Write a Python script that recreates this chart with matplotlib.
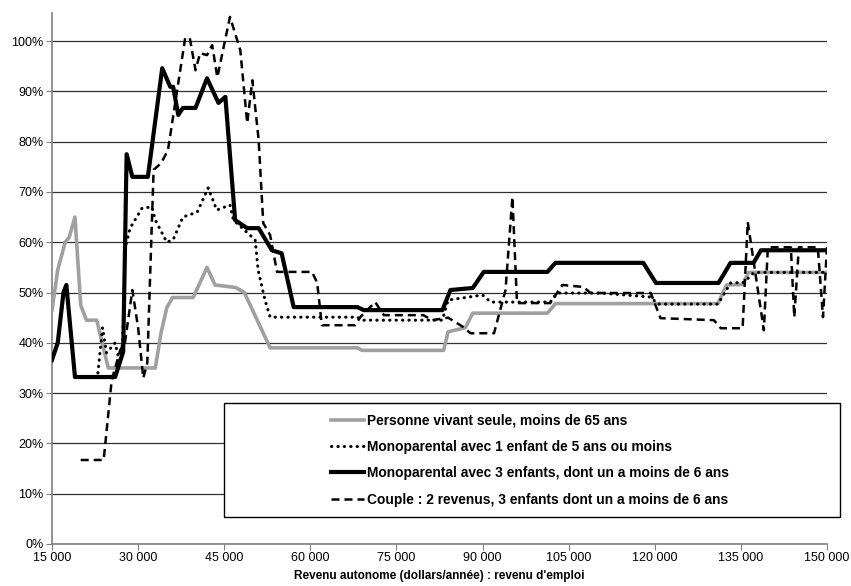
import matplotlib
matplotlib.use('Agg')
import matplotlib.pyplot as plt
import matplotlib.patches as patches
from matplotlib.ticker import FuncFormatter, MultipleLocator

plt.rcParams['font.family'] = ['Liberation Sans', 'DejaVu Sans']

# Personne vivant seule, moins de 65 ans
seule_x = [15000, 16000, 17300, 18000, 19000, 20000, 21000, 22800, 24800, 33000,
           34000, 35000, 36000, 39600, 42000, 43400, 47000, 48500, 53000, 68200,
           69000, 83200, 84000, 87000, 88300, 101300, 102700, 131000, 132500, 135300,
           136300, 150000]
seule_y = [46.5, 54.5, 60, 61, 65, 47.5, 44.5, 44.5, 35, 35,
           42, 47, 49, 49, 55, 51.5, 51, 50, 39, 39,
           38.5, 38.5, 42.2, 43, 45.9, 45.9, 47.8, 47.8, 51.5, 51.6,
           54, 54]

# Monoparental avec 1 enfant de 5 ans ou moins
mono1_x = [23000, 23800, 24500, 26000, 26800, 27300, 27800, 28600, 30700, 32400,
           33000, 35000, 36100, 37800, 40300, 42200, 43700, 46000, 46600, 49500,
           50400, 50900, 52100, 53000, 68200, 69000, 83000, 84000, 90000, 91400,
           101800, 103000, 110600, 119300, 120500, 131000, 133200, 135500, 137300, 150000]
mono1_y = [34, 43, 38, 40, 36, 40, 59, 62.8, 66.8, 67,
           64.4, 60, 60.5, 65, 66, 70.8, 66.4, 67.4, 64.4, 61.4,
           60.4, 54.5, 48.5, 45.1, 45.1, 44.5, 44.5, 48.5, 49.5, 48.1,
           48.1, 49.9, 49.9, 49.1, 47.7, 47.7, 51.9, 52, 54, 54]

# Monoparental avec 3 enfants, dont un a moins de 6 ans
mono3_x = [15000, 16000, 17000, 17500, 19000, 26000, 27400, 28000, 29000, 31700,
           34200, 35600, 36100, 37000, 37800, 40000, 42000, 44000, 45200, 46900,
           49000, 51000, 53300, 55000, 57100, 68200, 69300, 83000, 84400, 88300,
           90200, 101300, 102700, 118000, 120200, 131100, 133200, 137200, 138500, 150000]
mono3_y = [36.6, 40, 50, 51.5, 33.2, 33.2, 38.2, 77.5, 73, 73,
           94.6, 90.9, 90.9, 85.3, 86.7, 86.7, 92.6, 87.7, 88.9, 64.4,
           62.8, 62.8, 58.4, 57.8, 47.1, 47.1, 46.5, 46.5, 50.5, 50.9,
           54.1, 54.1, 55.9, 55.9, 51.9, 51.9, 55.9, 55.9, 58.4, 58.4]

# Couple : 2 revenus, 3 enfants dont un a moins de 6 ans
couple_x = [20000, 24000, 25400, 26900, 27700, 29000, 30000, 30900, 31600, 32700,
            34000, 35200, 38200, 39000, 40000, 40800, 42000, 42900, 43800, 46000,
            47800, 49000, 49900, 51000, 51800, 53000, 54200, 60300, 61200, 62000,
            67800, 68700, 71300, 72800, 79700, 81200, 84000, 86700, 87900, 92000,
            94000, 95200, 96000, 101800, 103900, 107600, 108800, 119300, 121000, 130300,
            131500, 135300, 136200, 139000, 139700, 143700, 144300, 145100, 148400, 149300,
            150000]
couple_y = [16.7, 16.7, 32.6, 38.6, 40, 50.5, 43, 33, 36, 74.4,
            75.7, 78.3, 100.6, 100.6, 94.2, 97.6, 97.2, 99.2, 92.8, 104.8,
            98.2, 83.7, 92.2, 80.3, 63.8, 61.4, 54.1, 54.1, 51.9, 43.5,
            43.5, 45.1, 48.1, 45.5, 45.5, 44.5, 45, 43.1, 41.9, 41.9,
            50.5, 69, 47.9, 47.9, 51.5, 51.1, 49.9, 49.9, 44.9, 44.5,
            42.9, 42.9, 64, 42.5, 59, 59, 45.1, 59, 59, 45.1,
            59]

labels = ['Personne vivant seule, moins de 65 ans',
          'Monoparental avec 1 enfant de 5 ans ou moins',
          'Monoparental avec 3 enfants, dont un a moins de 6 ans',
          'Couple : 2 revenus, 3 enfants dont un a moins de 6 ans']

fig = plt.figure(figsize=(8.51, 5.86), dpi=100)
ax = fig.add_axes([0.0611, 0.0717, 0.9107, 0.9063])

ax.plot(seule_x, [v / 100 for v in seule_y], color='#a0a0a0', lw=2.6,
        solid_joinstyle='round', label=labels[0], zorder=3)
ax.plot(mono1_x, [v / 100 for v in mono1_y], color='black', lw=2.2,
        linestyle=(0, (0.1, 2.0)), dash_capstyle='round', label=labels[1], zorder=3)
ax.plot(mono3_x, [v / 100 for v in mono3_y], color='black', lw=3.0,
        solid_joinstyle='round', label=labels[2], zorder=3)
ax.plot(couple_x, [v / 100 for v in couple_y], color='black', lw=1.8,
        linestyle=(0, (3.2, 2.0)), label=labels[3], zorder=4)

ax.set_xlim(15000, 150000)
ax.set_ylim(0, 1.056)
ax.xaxis.set_major_locator(MultipleLocator(15000))
ax.yaxis.set_major_locator(MultipleLocator(0.1))
ax.xaxis.set_major_formatter(FuncFormatter(lambda v, p: f'{int(v):,}'.replace(',', ' ')))
ax.yaxis.set_major_formatter(FuncFormatter(lambda v, p: f'{v * 100:.0f}%'))
ax.tick_params(axis='both', labelsize=9, direction='out', length=4, color='#808080', pad=2)

ax.grid(True, axis='y', color='#303030', lw=0.9)
ax.set_axisbelow(True)
for s in ['top', 'right']:
    ax.spines[s].set_visible(False)
for s in ['left', 'bottom']:
    ax.spines[s].set_color('#808080')
    ax.spines[s].set_linewidth(1.2)

ax.set_xlabel("Revenu autonome (dollars/année) : revenu d'emploi",
              fontsize=8.5, fontweight='bold', labelpad=4)

# cadre de la légende
box = patches.Rectangle((0.222, 0.0508), 0.795, 0.2147, transform=ax.transAxes,
                        facecolor='white', edgecolor='black', lw=1.0,
                        clip_on=False, zorder=6)
ax.add_patch(box)
leg = ax.legend(loc='center', bbox_to_anchor=(0.617, 0.158), frameon=False,
                prop={'weight': 'bold', 'size': 9.9}, handlelength=2.4,
                handletextpad=0.25, labelspacing=0.9)
leg.set_zorder(7)

fig.savefig('out.png', dpi=100, facecolor='white')
